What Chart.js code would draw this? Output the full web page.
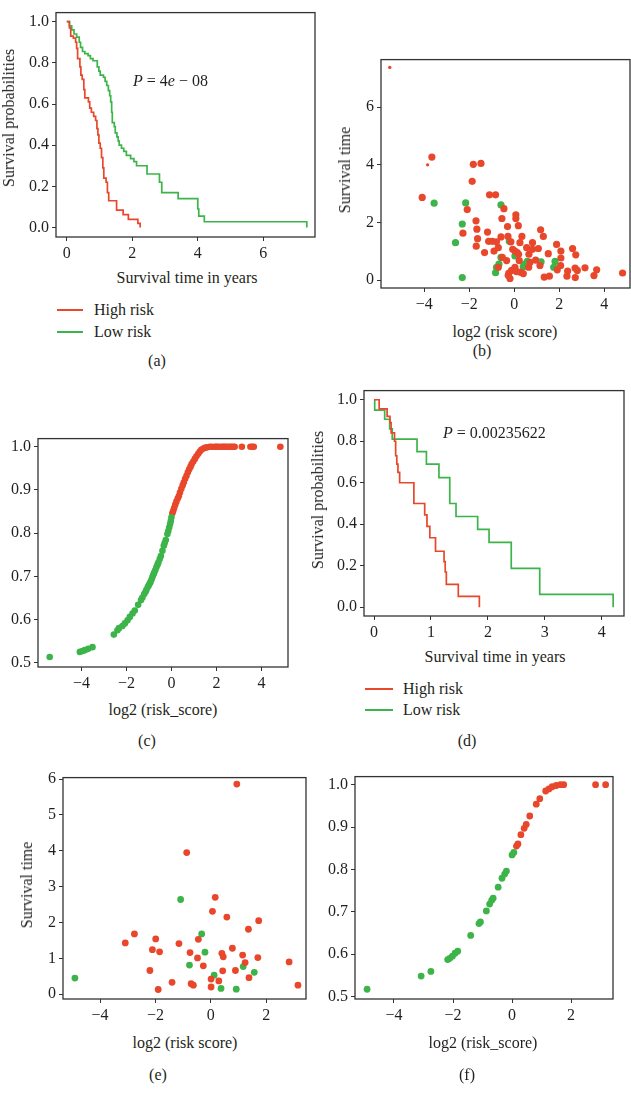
<!DOCTYPE html>
<html>
<head>
<meta charset="utf-8">
<script src="https://cdn.jsdelivr.net/npm/chart.js@4.4.1/dist/chart.umd.min.js"></script>
<style>
  html, body { margin: 0; padding: 0; background: #fff; }
  #page { position: relative; width: 631px; height: 1097px; overflow: hidden; background: #fff; }
  #page canvas { position: absolute; }
  .txt { position: absolute; font-family: "Liberation Serif", "DejaVu Serif", serif; font-size: 16px; color: #231f20; white-space: nowrap; line-height: 1; }
  .leg { position: absolute; height: 2px; }
</style>
</head>
<body>
<div id="page"></div>
<script>
const RED = '#e8472b';
const GREEN = '#3cb44a';
const INK = '#231f20';

// (a) Kaplan-Meier, training set
const aHighT = [0, 0.08, 0.12, 0.20, 0.27, 0.30, 0.33, 0.40, 0.43, 0.47, 0.52, 0.55, 0.66, 0.70, 0.75, 0.82, 0.88, 0.92, 0.95, 0.98, 1.02, 1.06, 1.10, 1.13, 1.20, 1.24, 1.28, 1.52, 1.72, 1.88, 2.17, 2.24];
const aHighS = [1, 0.97, 0.93, 0.92, 0.90, 0.87, 0.82, 0.78, 0.74, 0.72, 0.67, 0.63, 0.61, 0.58, 0.56, 0.54, 0.52, 0.48, 0.45, 0.41, 0.385, 0.34, 0.29, 0.24, 0.22, 0.17, 0.13, 0.085, 0.063, 0.04, 0.02, 0];
const aLowT = [0, 0.08, 0.15, 0.22, 0.30, 0.38, 0.42, 0.48, 0.55, 0.65, 0.72, 0.80, 0.93, 0.98, 1.02, 1.12, 1.17, 1.22, 1.27, 1.31, 1.34, 1.37, 1.39, 1.45, 1.48, 1.53, 1.57, 1.60, 1.67, 1.74, 1.82, 1.95, 2.05, 2.13, 2.45, 2.83, 2.90, 3.40, 4.00, 4.03, 4.20, 7.33];
const aLowS = [1, 0.98, 0.96, 0.94, 0.925, 0.90, 0.875, 0.855, 0.845, 0.835, 0.82, 0.81, 0.78, 0.76, 0.74, 0.73, 0.71, 0.69, 0.665, 0.64, 0.61, 0.56, 0.51, 0.49, 0.46, 0.44, 0.42, 0.40, 0.385, 0.37, 0.35, 0.335, 0.32, 0.30, 0.26, 0.22, 0.17, 0.14, 0.09, 0.055, 0.028, 0];

// (b) survival time vs log2(risk score), training set
const bRedX = [-5.53, -3.85, -3.66, -4.09, -2.28, -2.09, -1.82, -1.48, -1.87, -1.10, -0.83, -1.70, -1.66, -1.63, -1.69, -1.32, -1.19, -1.14, -0.98, -0.90, -0.79, -0.71, -0.59, -0.55, -0.46, -0.30, -0.28, -0.15, -0.07, 0.07, 0.07, 0.18, 0.25, 0.34, 0.03, 0.13, -0.53, -0.34, -0.71, -0.27, -0.19, -0.12, 0.03, 0.22, 0.28, 0.55, 0.65, 0.81, 0.81, 0.95, 1.07, 0.64, 1.17, 1.29, 1.14, 1.33, 1.56, 1.51, 1.88, 2.07, 2.07, 1.91, 2.06, 2.37, 2.34, 2.59, 2.73, 2.70, 2.80, 2.71, 3.14, 3.54, 3.66, 4.81, 0.40, 0.70, 0.19, -0.24, 0.10];
const bRedY = [7.38, 4.00, 4.27, 2.87, 1.63, 2.45, 4.02, 4.05, 3.43, 2.96, 2.96, 2.06, 1.77, 1.44, 1.18, 0.96, 1.67, 1.35, 1.35, 1.01, 1.33, 1.13, 1.50, 2.14, 2.48, 1.86, 1.52, 1.33, 1.07, 2.27, 2.14, 1.89, 1.30, 1.52, 1.01, 0.96, 0.79, 0.68, 0.45, 0.17, 0.06, 0.34, 0.45, 0.68, 0.28, 1.13, 0.90, 1.30, 1.07, 0.70, 1.10, 0.45, 1.75, 1.52, 0.51, 0.11, 0.14, 0.92, 1.24, 1.01, 0.77, 0.36, 0.51, 0.32, 0.14, 1.10, 0.88, 0.42, 0.34, 0.09, 0.43, 0.16, 0.36, 0.25, 0.23, 0.62, 0.90, 0.25, 0.30];
const bRedR = bRedX.map((x, i) => i < 2 ? 1.7 : 3.6);
const bGreenX = [-3.56, -2.16, -2.31, -2.61, -2.31, -0.59, -0.83, -0.68, -0.59, -0.22, 0.03, 0.40, 0.47, 0.58, 1.19, 1.75, 1.81, -0.79];
const bGreenY = [2.67, 2.68, 1.95, 1.30, 0.09, 2.61, 0.26, 0.56, 0.79, 1.35, 0.84, 0.47, 0.56, 0.65, 0.64, 0.45, 0.65, 0.45];

// (c) risk curve, training set
const cGreenX = [-5.41, -4.07, -3.95, -3.85, -3.70, -3.51, -2.56, -2.40, -2.33, -2.18, -2.07, -1.95, -1.85, -1.73, -1.63, -1.48, -1.35, -1.29, -1.21, -1.15, -1.11, -1.05, -1.01, -0.96, -0.93, -0.88, -0.84, -0.80, -0.77, -0.72, -0.67, -0.62, -0.58, -0.52, -0.47, -0.40, -0.34, -0.30, -0.25, -0.18, -0.14, -0.10, -0.06, -0.03, 0.0];
const cGreenY = [0.513, 0.525, 0.527, 0.529, 0.532, 0.536, 0.565, 0.575, 0.580, 0.585, 0.591, 0.598, 0.606, 0.614, 0.621, 0.634, 0.645, 0.651, 0.659, 0.664, 0.669, 0.675, 0.679, 0.684, 0.687, 0.693, 0.699, 0.704, 0.708, 0.714, 0.721, 0.727, 0.732, 0.740, 0.747, 0.759, 0.771, 0.777, 0.784, 0.798, 0.805, 0.813, 0.821, 0.828, 0.837];
const cRedX = [0.04, 0.08, 0.12, 0.17, 0.22, 0.28, 0.33, 0.38, 0.44, 0.50, 0.55, 0.61, 0.67, 0.73, 0.79, 0.85, 0.90, 0.97, 1.04, 1.11, 1.19, 1.26, 1.33, 1.42, 1.51, 1.60, 1.70, 1.80, 1.93, 2.00, 2.07, 2.17, 2.27, 2.34, 2.41, 2.50, 2.59, 2.66, 2.74, 2.81, 3.13, 3.51, 3.60, 3.66, 4.84];
const cRedY = [0.846, 0.852, 0.858, 0.866, 0.873, 0.880, 0.886, 0.894, 0.903, 0.911, 0.918, 0.926, 0.933, 0.941, 0.948, 0.954, 0.960, 0.966, 0.972, 0.978, 0.984, 0.989, 0.993, 0.996, 0.998, 0.999, 1.0, 1.0, 1.0, 1.0, 1.0, 1.0, 1.0, 1.0, 1.0, 1.0, 1.0, 1.0, 1.0, 1.0, 1.0, 1.0, 1.0, 1.0, 1.0];

// (d) Kaplan-Meier, validation set
const dHighT = [0, 0.09, 0.23, 0.28, 0.30, 0.36, 0.38, 0.40, 0.42, 0.45, 0.70, 0.89, 0.93, 0.98, 1.08, 1.23, 1.25, 1.27, 1.48, 1.85];
const dHighS = [1, 0.956, 0.92, 0.89, 0.84, 0.80, 0.73, 0.69, 0.65, 0.60, 0.50, 0.445, 0.39, 0.335, 0.27, 0.22, 0.17, 0.11, 0.053, 0];
const dLowT = [0, 0.012, 0.187, 0.275, 0.32, 0.755, 0.92, 1.14, 1.33, 1.44, 1.82, 2.02, 2.41, 2.91, 4.20];
const dLowS = [1, 0.95, 0.906, 0.86, 0.81, 0.75, 0.69, 0.625, 0.50, 0.4375, 0.375, 0.3125, 0.1875, 0.0625, 0];

// (e) survival time vs log2(risk score), validation set
const eRedX = [0.94, -0.87, 0.16, 0.06, 0.58, 1.73, 1.36, -2.76, -3.09, -1.99, -1.15, -0.45, -2.11, -1.85, -0.75, 0.78, 0.40, 0.45, 1.15, -0.48, 1.70, 2.83, 1.24, -0.27, -2.20, 0.43, 0.89, 0.01, 0.29, 1.38, -1.40, -0.71, -0.63, 0.01, -1.90, 3.15];
const eRedY = [5.86, 3.95, 2.70, 2.31, 2.15, 2.05, 1.81, 1.68, 1.43, 1.54, 1.41, 1.53, 1.24, 1.18, 1.16, 1.28, 1.14, 1.04, 1.09, 1.01, 1.02, 0.90, 0.88, 0.79, 0.66, 0.65, 0.66, 0.42, 0.37, 0.46, 0.33, 0.29, 0.25, 0.20, 0.13, 0.25];
const eGreenX = [-4.91, -1.09, -0.33, -0.21, -0.77, 0.12, 1.17, 1.57, 0.37, 0.92];
const eGreenY = [0.45, 2.64, 1.68, 1.17, 0.81, 0.53, 0.77, 0.61, 0.16, 0.14];

// (f) risk curve, validation set
const fGreenX = [-4.91, -3.08, -2.75, -2.18, -2.11, -2.02, -1.93, -1.84, -1.40, -1.12, -1.07, -0.87, -0.76, -0.69, -0.64, -0.47, -0.34, -0.25, -0.19, 0.0, 0.06];
const fGreenY = [0.517, 0.548, 0.559, 0.587, 0.590, 0.595, 0.602, 0.607, 0.644, 0.672, 0.676, 0.702, 0.718, 0.727, 0.732, 0.758, 0.779, 0.789, 0.796, 0.834, 0.840];
const fRedX = [0.15, 0.20, 0.30, 0.41, 0.48, 0.60, 0.82, 0.94, 1.14, 1.25, 1.36, 1.50, 1.64, 1.75, 2.83, 3.17];
const fRedY = [0.855, 0.860, 0.882, 0.897, 0.906, 0.926, 0.954, 0.967, 0.985, 0.990, 0.995, 0.998, 1.0, 1.0, 1.0, 1.0];

// tick labels
const ticksYears7 = [0, 2, 4, 6];
const ticksYears4 = [0, 1, 2, 3, 4];
const ticksProb = [0, 0.2, 0.4, 0.6, 0.8, 1.0];
const ticksRiskB = [-4, -2, 0, 2, 4];
const ticksRiskE = [-4, -2, 0, 2];
const ticksTimeB = [0, 2, 4, 6];
const ticksTimeE = [0, 1, 2, 3, 4, 5, 6];
const ticksCurve = [0.5, 0.6, 0.7, 0.8, 0.9, 1.0];

const page = document.getElementById('page');
const FONT = '"Liberation Serif", "DejaVu Serif", serif';

const zip = (xs, ys) => xs.map((x, i) => ({ x, y: ys[i] }));
const minus = v => String(v).replace('-', '\u2212');
const oneDec = v => v.toFixed(1);

const framePlugin = {
    id: 'frame',
    afterDraw(chart) {
        const a = chart.chartArea, ctx = chart.ctx;
        ctx.save();
        ctx.strokeStyle = '#333';
        ctx.lineWidth = 1.3;
        ctx.strokeRect(a.left, a.top, a.right - a.left, a.bottom - a.top);
        ctx.restore();
    }
};

function kmSet(t, s, color) {
    return { data: zip(t, s), showLine: true, stepped: true, borderColor: color, borderWidth: 1.7, pointRadius: 0, fill: false };
}

function dotSet(xs, ys, color, r) {
    return { data: zip(xs, ys), backgroundColor: color, borderWidth: 0, pointRadius: r, clip: false };
}

function axis(min, max, ticks, fmt, isX, size) {
    return {
        type: 'linear', min, max,
        afterBuildTicks: a => { a.ticks = ticks.map(v => ({ value: v })); },
        afterFit: a => { if (isX) a.height = size; else a.width = size; },
        ticks: { callback: fmt, autoSkip: false, maxRotation: 0, padding: 3, color: INK, font: { family: FONT, size: 16 } },
        grid: { drawOnChartArea: false, tickLength: 4, color: '#333', lineWidth: 1 },
        border: { display: false }
    };
}

function panel(box, xr, yr, xt, yt, fx, fy, datasets) {
    const padL = Math.min(48, box.l), padT = Math.min(6, box.t), padR = 6, padB = 28;
    const c = document.createElement('canvas');
    c.width = box.r - box.l + padL + padR;
    c.height = box.b - box.t + padT + padB;
    c.style.left = (box.l - padL) + 'px';
    c.style.top = (box.t - padT) + 'px';
    page.appendChild(c);
    new Chart(c, {
        type: 'scatter',
        data: { datasets },
        options: {
            responsive: false, animation: false, devicePixelRatio: 1,
            layout: { padding: { top: padT, right: padR, left: 0, bottom: 0 } },
            plugins: { legend: { display: false }, tooltip: { enabled: false } },
            scales: {
                x: axis(xr[0], xr[1], xt, fx, true, padB),
                y: axis(yr[0], yr[1], yt, fy, false, padL)
            }
        },
        plugins: [framePlugin]
    });
}

function text(html, x, y, opts = {}) {
    const d = document.createElement('div');
    d.className = 'txt';
    d.innerHTML = html;
    d.style.left = x + 'px';
    d.style.top = y + 'px';
    let tf = opts.left ? 'translate(0,-50%)' : 'translate(-50%,-50%)';
    if (opts.rot) tf += ' rotate(-90deg)';
    d.style.transform = tf;
    page.appendChild(d);
}

function legendLine(x1, x2, y, color) {
    const d = document.createElement('div');
    d.className = 'leg';
    d.style.left = x1 + 'px';
    d.style.top = (y - 1) + 'px';
    d.style.width = (x2 - x1) + 'px';
    d.style.background = color;
    page.appendChild(d);
}

// (a)
panel({ l: 56, t: 1, r: 315, b: 237 }, [-0.33, 7.58], [-0.046, 1.044], ticksYears7, ticksProb, minus, oneDec,
    [kmSet(aHighT, aHighS, RED), kmSet(aLowT, aLowS, GREEN)]);
text('Survival probabilities', 9, 118, { rot: true });
text('Survival time in years', 187, 278);
text('<i>P</i> = 4<i>e</i> \u2212 08', 133, 81, { left: true });
legendLine(57, 83, 310, RED);
legendLine(57, 83, 332, GREEN);
text('High risk', 94, 310, { left: true });
text('Low risk', 94, 332, { left: true });
text('(a)', 157, 361);

// (b)
panel({ l: 381, t: 53, r: 630, b: 288 }, [-5.92, 5.14], [-0.27, 7.65], ticksRiskB, ticksTimeB, minus, minus,
    [dotSet(bRedX, bRedY, RED, bRedR), dotSet(bGreenX, bGreenY, GREEN, 3.6)]);
text('Survival time', 345, 170, { rot: true });
text('log2 (risk score)', 505, 332);
text('(b)', 482, 351);

// (c)
panel({ l: 38, t: 432, r: 288, b: 667 }, [-5.93, 5.18], [0.490, 1.019], ticksRiskB, ticksCurve, minus, oneDec,
    [dotSet(cGreenX, cGreenY, GREEN, 3.3), dotSet(cRedX, cRedY, RED, 3.3)]);
text('log2 (risk_score)', 163, 710);
text('(c)', 147, 741);

// (d)
panel({ l: 364, t: 384, r: 624, b: 616 }, [-0.176, 4.39], [-0.042, 1.044], ticksYears4, ticksProb, minus, oneDec,
    [kmSet(dHighT, dHighS, RED), kmSet(dLowT, dLowS, GREEN)]);
text('Survival probabilities', 318, 500, { rot: true });
text('Survival time in years', 495, 657);
text('<i>P</i> = 0.00235622', 443, 433, { left: true });
legendLine(365, 393, 689, RED);
legendLine(365, 393, 710, GREEN);
text('High risk', 403, 689, { left: true });
text('Low risk', 403, 710, { left: true });
text('(d)', 467, 741);

// (e)
panel({ l: 63, t: 771, r: 306, b: 999 }, [-5.34, 3.44], [-0.135, 6.04], ticksRiskE, ticksTimeE, minus, minus,
    [dotSet(eRedX, eRedY, RED, 3.4), dotSet(eGreenX, eGreenY, GREEN, 3.4)]);
text('Survival time', 27, 885, { rot: true });
text('log2 (risk score)', 185, 1043);
text('(e)', 158, 1075);

// (f)
panel({ l: 355, t: 770, r: 613, b: 999 }, [-5.32, 3.42], [0.494, 1.019], ticksRiskE, ticksCurve, minus, oneDec,
    [dotSet(fGreenX, fGreenY, GREEN, 3.4), dotSet(fRedX, fRedY, RED, 3.4)]);
text('log2 (risk_score)', 483, 1043);
text('(f)', 467, 1075);
</script>
</body>
</html>
